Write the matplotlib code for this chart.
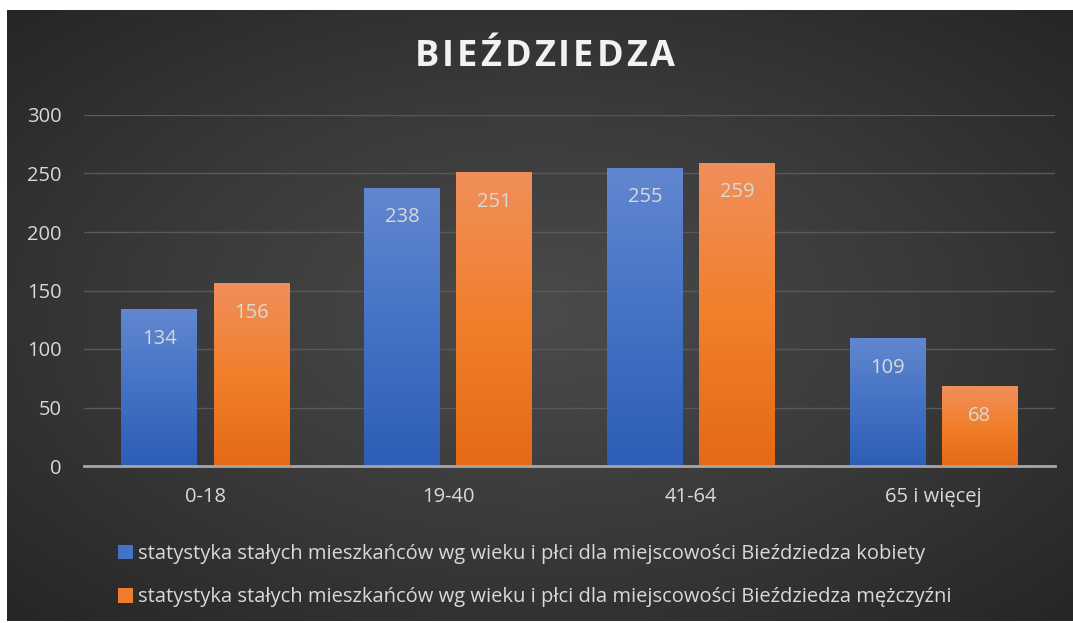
import numpy as np
import matplotlib
matplotlib.use("Agg")
import matplotlib.pyplot as plt
from matplotlib.colors import LinearSegmentedColormap

plt.rcParams["font.family"] = ["Open Sans", "DejaVu Sans"]

# data
categories = ["0-18", "19-40", "41-64", "65 i więcej"]
kobiety = [134, 238, 255, 109]
mezczyzni = [156, 251, 259, 68]
series_labels = [
    "statystyka stałych mieszkańców wg wieku i płci dla miejscowości Bieździedza kobiety",
    "statystyka stałych mieszkańców wg wieku i płci dla miejscowości Bieździedza mężczyźni",
]
title = "BIEŹDZIEDZA"
yticks = [0, 50, 100, 150, 200, 250, 300]

text_col = "#d9d9d9"
fs = 14.5

fig = plt.figure(figsize=(10.73, 6.23), dpi=100)
fig.patch.set_facecolor("white")

# dark panel with a radial gradient
bg = fig.add_axes([7 / 1073, 2 / 623, 1 - 7 / 1073, 611 / 623])
bg.set_axis_off()
gx, gy = np.meshgrid(np.linspace(-1, 1, 400), np.linspace(-1, 1, 240))
r = np.sqrt(gx ** 2 + gy ** 2) / np.sqrt(2)
bg_cmap = LinearSegmentedColormap.from_list("bg", ["#4b4b4b", "#3a3a3a", "#262626"])
bg.imshow(r, cmap=bg_cmap, aspect="auto", extent=[0, 1, 0, 1], vmin=0, vmax=1)
bg.set_xlim(0, 1)
bg.set_ylim(0, 1)

ax = fig.add_axes([84 / 1073, 157 / 623, 971 / 1073, 351 / 623])
ax.set_facecolor("none")

x = np.arange(len(categories))
w = 0.313
off = 0.19

b1 = ax.bar(x - off, kobiety, w, color="#4472c4", zorder=2, label=series_labels[0])
b2 = ax.bar(x + off, mezczyzni, w, color="#ed7d31", zorder=2, label=series_labels[1])

blue_grad = LinearSegmentedColormap.from_list("bl", ["#2d5db6", "#4472c4", "#6287d0"])
orange_grad = LinearSegmentedColormap.from_list("or", ["#e46a17", "#f17f2b", "#f08f5b"])
grad = np.linspace(0, 1, 256).reshape(-1, 1)
for bars, cm in [(b1, blue_grad), (b2, orange_grad)]:
    for bar in bars:
        x0, y0 = bar.get_x(), bar.get_y()
        bw, bh = bar.get_width(), bar.get_height()
        im = ax.imshow(grad, cmap=cm, aspect="auto", origin="lower",
                       extent=[x0, x0 + bw, y0, y0 + bh], zorder=3)
        im.set_clip_path(bar)
        ax.annotate(f"{int(bh)}", (x0 + bw / 2, bh), xytext=(0, -14),
                    textcoords="offset points", ha="center", va="top",
                    color=text_col, fontsize=fs, zorder=4)

ax.set_xlim(-0.5, len(categories) - 0.5)
ax.set_ylim(0, 300)
ax.set_yticks(yticks)
ax.set_xticks(x)
ax.set_xticklabels(categories)
ax.tick_params(axis="both", length=0, labelcolor=text_col, labelsize=fs)
ax.tick_params(axis="y", pad=16)
ax.tick_params(axis="x", pad=15)
ax.grid(axis="y", color="#595959", linewidth=1, zorder=0)
for s in ["top", "right", "left"]:
    ax.spines[s].set_visible(False)
ax.spines["bottom"].set_color("#a6a6a6")
ax.spines["bottom"].set_linewidth(2)
ax.spines["bottom"].set_zorder(5)

# title with letter spacing: place letters one by one
renderer = fig.canvas.get_renderer()
spacing = 3  # px between letters
parts = []
for ch in title:
    t = fig.text(0, 1 - 57 / 623, ch, ha="left", va="center", color="#f2f2f2",
                 fontsize=26, fontweight="bold")
    parts.append((t, t.get_window_extent(renderer).width))
total = sum(p[1] for p in parts) + spacing * (len(parts) - 1)
cur = 545 - total / 2
for t, wpx in parts:
    t.set_x(cur / 1073)
    cur += wpx + spacing

fig.legend(handles=[b1, b2], labels=series_labels, loc="upper left",
           bbox_to_anchor=(100 / 1073, 1 - 526 / 623), frameon=False,
           labelcolor=text_col, fontsize=fs, handlelength=0.75, handleheight=0.75,
           handletextpad=0.25, labelspacing=1.15)

fig.savefig("out.png", dpi=100, facecolor=fig.get_facecolor())
